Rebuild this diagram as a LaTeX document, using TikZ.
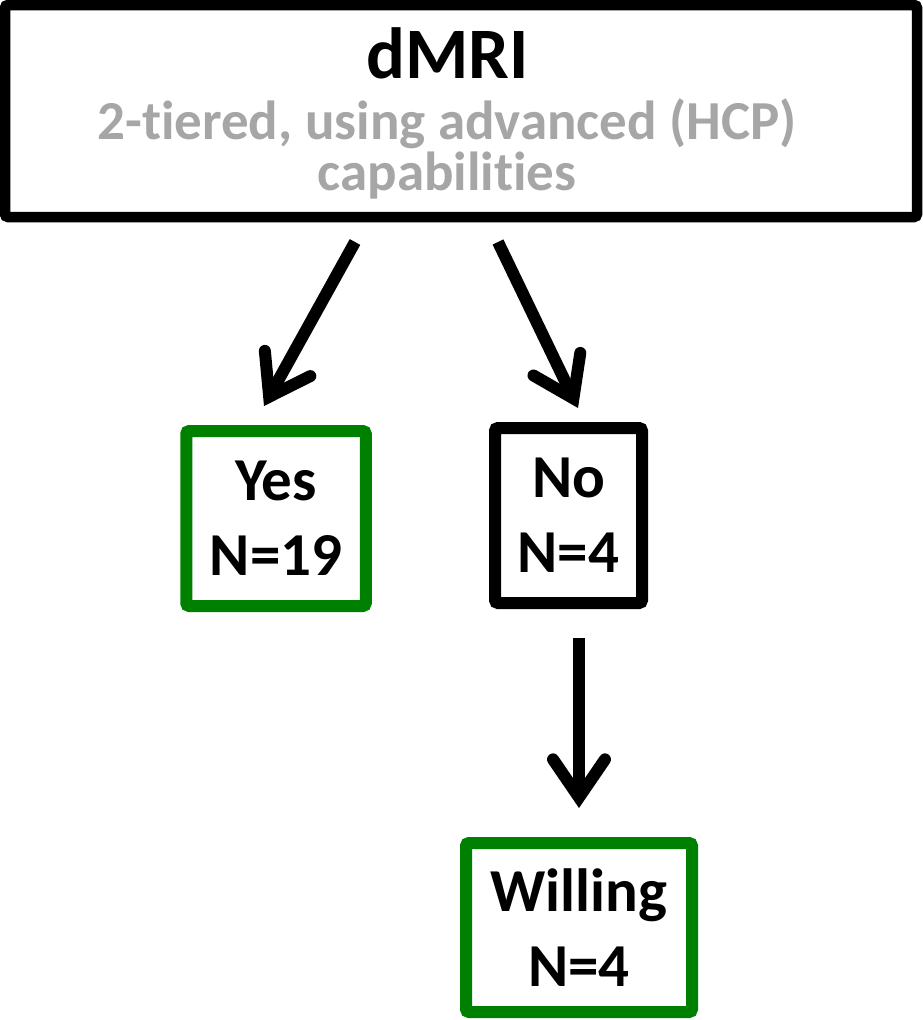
\documentclass[tikz,border=0pt]{standalone}
\usepackage{fontspec}
\setmainfont{Carlito}[Ligatures=NoCommon]
\usetikzlibrary{arrows.meta}
\definecolor{boxgreen}{RGB}{0,128,0}
\definecolor{subgray}{RGB}{166,166,166}
\begin{document}
\begin{tikzpicture}[x=1pt,y=-1pt,
  topbox/.style={draw=black,line width=10.5pt,rounded corners=3pt,minimum width=912pt,minimum height=212pt,inner sep=0pt,align=center},
  greenbox/.style={draw=boxgreen,line width=12pt,rounded corners=3pt,inner sep=0pt,align=center,font=\fontsize{61}{75}\selectfont\bfseries},
  blackbox/.style={draw=black,line width=12pt,rounded corners=3pt,inner sep=0pt,align=center,font=\fontsize{61}{75}\selectfont\bfseries},
  subtext/.style={font=\fontsize{55}{55}\selectfont\bfseries,text=subgray,anchor=base,inner sep=0pt},
  flowarrow/.style={line width=12pt,-{Straight Barb[length=38pt,width=52pt,line cap=round,line join=miter]}}
]
\useasboundingbox (0,0) rectangle (922,1020);
\node[topbox] (top) at (461,111) {};
\node[font=\fontsize{72.5}{80}\selectfont\bfseries,anchor=base,inner sep=0pt] (title) at (447.5,78) {dMRI};
\node[subtext] (sub1) at (447,139) {2-tiered, using advanced (HCP)};
\node[subtext] (sub2) at (447,190) {capabilities};
\node[greenbox,minimum width=179.5pt,minimum height=175pt] (yes) at (276,518.5) {Yes\\N=19};
\node[blackbox,minimum width=147pt,minimum height=175pt] (no) at (568.5,515.5) {No\\N=4};
\node[greenbox,minimum width=226pt,minimum height=169pt] (will) at (579,927.5) {Willing\\N=4};
\coordinate (a1s) at (355,242);
\coordinate (a1e) at (264,406);
\coordinate (a2s) at (498,242);
\coordinate (a2e) at (578,408);
\coordinate (a3s) at (579,638);
\coordinate (a3e) at (579,808);
\draw[flowarrow] (a1s) -- (a1e);
\draw[flowarrow] (a2s) -- (a2e);
\draw[flowarrow] (a3s) -- (a3e);
\end{tikzpicture}
\end{document}
